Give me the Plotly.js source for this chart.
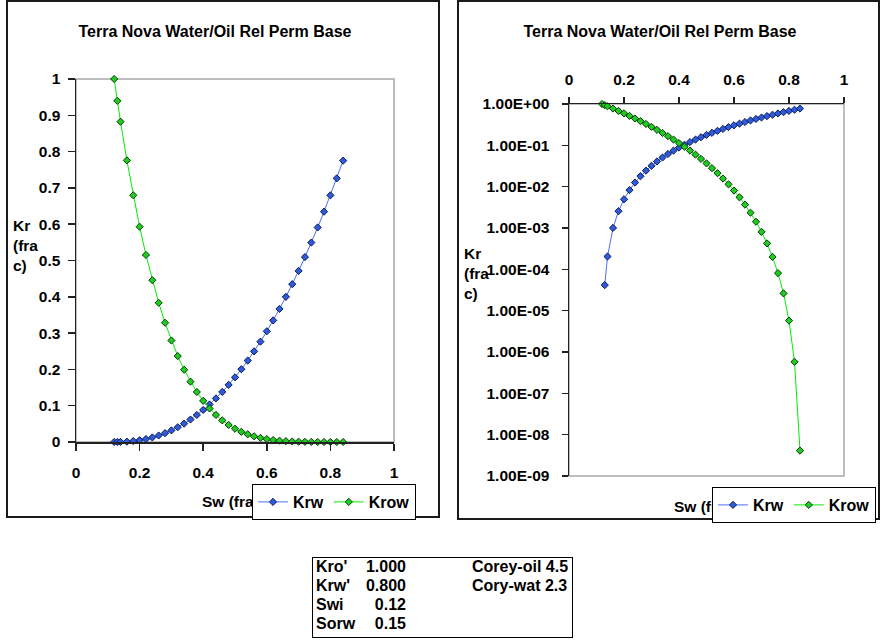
<!DOCTYPE html>
<html>
<head>
<meta charset="utf-8">
<script src="https://cdn.plot.ly/plotly-3.0.1.min.js"></script>
<style>
  html, body { margin: 0; padding: 0; background: #fff; width: 888px; height: 644px; overflow: hidden; }
  .frame { position: absolute; border: 2px solid #1a1a1a; box-sizing: border-box; }
  .chart { position: absolute; top: 0; }
  #params { position: absolute; left: 312px; top: 557px; width: 261px; height: 81px;
            border: 1.5px solid #000; box-sizing: border-box;
            font-family: "Liberation Sans", Arial, sans-serif; font-weight: bold; font-size: 16px; color: #000; }
  #params div { position: absolute; white-space: nowrap; line-height: 1; transform: translateY(-50%); }
</style>
</head>
<body>
<div class="frame" style="left:6px;width:434px;height:518px;top:0;"></div>
<div class="frame" style="left:457px;width:423px;height:520px;top:0;"></div>
<div id="linChart" class="chart" style="left:0;width:445px;height:525px;"></div>
<div id="logChart" class="chart" style="left:450px;width:438px;height:525px;"></div>
<div id="params"></div>

<script>
// Water saturation and the Corey relative permeability curves
const sw = [0.12, 0.13, 0.14, 0.16, 0.18, 0.20, 0.22, 0.24, 0.26, 0.28, 0.30, 0.32, 0.34,
            0.36, 0.38, 0.40, 0.42, 0.44, 0.46, 0.48, 0.50, 0.52, 0.54, 0.56, 0.58, 0.60,
            0.62, 0.64, 0.66, 0.68, 0.70, 0.72, 0.74, 0.76, 0.78, 0.80, 0.82, 0.84];

const krw = [0, 4.15e-5, 2.04e-4, 0.001005, 0.002554, 0.004949, 0.008268, 0.012575, 0.017929,
             0.024373, 0.031958, 0.040716, 0.050693, 0.061940, 0.074452, 0.088282, 0.10347,
             0.12003, 0.13800, 0.15737, 0.17821, 0.20053, 0.22436, 0.24968, 0.27651, 0.30499,
             0.33497, 0.36659, 0.39988, 0.43483, 0.47128, 0.50945, 0.54942, 0.59108, 0.63451,
             0.67950, 0.72637, 0.77507];

const krow = [1, 0.9398, 0.8824, 0.7758, 0.6797, 0.5930, 0.5152, 0.4457, 0.3835, 0.3285,
              0.2796, 0.2367, 0.1991, 0.1663, 0.1378, 0.11337, 0.09237, 0.07456, 0.05954,
              0.04697, 0.03658, 0.02807, 0.02119, 0.01570, 0.011377, 0.008049, 0.005530,
              0.003672, 0.002340, 0.001419, 0.000808, 0.0004242, 0.0002001, 8.109e-5,
              2.6175e-5, 5.758e-6, 5.780e-7, 4.110e-9];

// Axis ticks
const swTickVals = [0, 0.2, 0.4, 0.6, 0.8, 1];
const swTickText = ['0', '0.2', '0.4', '0.6', '0.8', '1'];
const krTickVals = [0, 0.1, 0.2, 0.3, 0.4, 0.5, 0.6, 0.7, 0.8, 0.9, 1];
const krTickText = ['0', '0.1', '0.2', '0.3', '0.4', '0.5', '0.6', '0.7', '0.8', '0.9', '1'];
const logTickVals = [1, 1e-1, 1e-2, 1e-3, 1e-4, 1e-5, 1e-6, 1e-7, 1e-8, 1e-9];
const logTickText = ['1.00E+00', '1.00E-01', '1.00E-02', '1.00E-03', '1.00E-04',
                     '1.00E-05', '1.00E-06', '1.00E-07', '1.00E-08', '1.00E-09'];

// Model parameters listed under the charts
const paramNames = ["Kro'", "Krw'", 'Swi', 'Sorw'];
const paramValues = ['1.000', '0.800', '0.12', '0.15'];
const coreyNotes = ['Corey-oil 4.5', 'Cory-wat 2.3'];

const chartTitle = 'Terra Nova Water/Oil Rel Perm Base';
const FAMILY = 'Liberation Sans, Arial, sans-serif';
const bold = (size) => ({ family: FAMILY, size: size, color: '#000', weight: 700 });
const AXIS_COLOR = '#222';
const TICK_SIZE = 15.5;

// pixel position inside a chart div -> paper fraction
function paper(g, px, py) {
  return { x: (px - g.l) / (g.w - g.l - g.r), y: (g.h - g.b - py) / (g.h - g.t - g.b) };
}

function series(yValues) {
  return [
    { x: sw, y: yValues[0], name: 'Krw', type: 'scatter', mode: 'lines+markers', cliponaxis: false,
      line: { color: '#4a6ff7', width: 1 },
      marker: { symbol: 'diamond', size: 5.5, color: '#2f5ad8', line: { color: '#0b1b5e', width: 1 } } },
    { x: sw, y: yValues[1], name: 'Krow', type: 'scatter', mode: 'lines+markers', cliponaxis: false,
      line: { color: '#00ee00', width: 1 },
      marker: { symbol: 'diamond', size: 5.5, color: '#1fcc1f', line: { color: '#053a05', width: 1 } } }
  ];
}

function baseAxis(extra) {
  return Object.assign({
    showline: true, linecolor: AXIS_COLOR, linewidth: 1.5,
    ticks: 'outside', ticklen: 7, tickwidth: 1.5, tickcolor: AXIS_COLOR,
    showgrid: false, zeroline: false, tickfont: bold(TICK_SIZE), fixedrange: true
  }, extra);
}
function innerTicks(extra) {
  return Object.assign({
    showline: false, showgrid: false, zeroline: false, showticklabels: false,
    ticks: 'inside', ticklen: 6, tickwidth: 1.5, tickcolor: AXIS_COLOR, fixedrange: true
  }, extra);
}

function commonLayout(g, titleX, titleY, legendPos) {
  return {
    width: g.w, height: g.h,
    margin: { l: g.l, r: g.r, t: g.t, b: g.b, autoexpand: false },
    paper_bgcolor: 'rgba(0,0,0,0)', plot_bgcolor: 'rgba(0,0,0,0)',
    title: { text: '<b>' + chartTitle + '</b>', font: bold(16), xref: 'container', yref: 'container',
             x: titleX / g.w, y: 1 - titleY / g.h, xanchor: 'center', yanchor: 'middle' },
    showlegend: true,
    legend: { orientation: 'h', x: legendPos.x, y: legendPos.y, xanchor: 'left', yanchor: 'top',
              bgcolor: '#fff', bordercolor: '#000', borderwidth: 1, font: bold(16),
              traceorder: 'normal', tracegroupgap: 0 },
    shapes: [{ type: 'rect', xref: 'paper', yref: 'paper', x0: 0, x1: 1, y0: 0, y1: 1,
               line: { color: '#a9a9a9', width: 1.5 }, layer: 'below' }]
  };
}

function labels(g, yTitle, xTitle) {
  const yt = paper(g, yTitle.x, yTitle.y);
  const xt = paper(g, xTitle.x, xTitle.y);
  return [
    { text: '<b>Kr<br>(fra<br>c)</b>', xref: 'paper', yref: 'paper', x: yt.x, y: yt.y,
      xanchor: 'left', yanchor: 'top', align: 'left', showarrow: false, font: bold(15.5) },
    { text: '<b>Sw (frac)</b>', xref: 'paper', yref: 'paper', x: xt.x, y: xt.y,
      xanchor: 'left', yanchor: 'middle', showarrow: false, font: bold(15.5) }
  ];
}

function legendOnTop(gd) {
  const lg = gd.querySelector('g.legend');
  if (lg) lg.parentNode.appendChild(lg);
}

// ---- linear chart ----
const g1 = { w: 445, h: 525, l: 76, r: 51, t: 79, b: 83 };
const lay1 = commonLayout(g1, 215, 31, paper(g1, 252, 484));
lay1.xaxis = baseAxis({ range: [0, 1], tickvals: swTickVals, ticktext: swTickText, ticklabelstandoff: 9 });
lay1.xaxis2 = innerTicks({ overlaying: 'x', anchor: 'y', side: 'bottom', range: [0, 1], tickvals: swTickVals });
lay1.yaxis = baseAxis({ range: [0, 1], tickvals: krTickVals, ticktext: krTickText, ticklabelstandoff: 4 });
lay1.yaxis2 = innerTicks({ overlaying: 'y', anchor: 'x', side: 'left', range: [0, 1], tickvals: krTickVals });
lay1.annotations = labels(g1, { x: 11, y: 215 }, { x: 200, y: 502 });

Plotly.newPlot('linChart', series([krw, krow]), lay1, { staticPlot: true }).then(legendOnTop);

// ---- log chart (zero values cannot be shown on a log axis) ----
const krwPositive = krw.map(v => (v > 0 ? v : null));
const g2 = { w: 438, h: 525, l: 119, r: 44, t: 104, b: 49 };
const lay2 = commonLayout(g2, 210, 31, paper(g2, 262, 487));
lay2.xaxis = baseAxis({ side: 'top', anchor: 'y', range: [0, 1], tickvals: swTickVals, ticktext: swTickText,
                        ticklen: 6, ticklabelstandoff: 5 });
lay2.xaxis2 = innerTicks({ overlaying: 'x', anchor: 'y', side: 'top', range: [0, 1], tickvals: swTickVals });
lay2.yaxis = baseAxis({ type: 'log', range: [-9, 0], tickvals: logTickVals, ticktext: logTickText,
                        ticklen: 6, ticklabelstandoff: 9 });
lay2.yaxis2 = innerTicks({ overlaying: 'y', anchor: 'x', side: 'left', type: 'log', range: [-9, 0],
                           tickvals: logTickVals });
lay2.annotations = labels(g2, { x: 12, y: 243 }, { x: 222, y: 506 });

Plotly.newPlot('logChart', series([krwPositive, krow]), lay2, { staticPlot: true }).then(legendOnTop);

// ---- parameter table ----
const params = document.getElementById('params');
const rowCenters = [9, 28, 47, 66];
paramNames.forEach((name, i) => {
  const n = document.createElement('div');
  n.textContent = name;
  n.style.left = '3px';
  n.style.top = rowCenters[i] + 'px';
  params.appendChild(n);
  const v = document.createElement('div');
  v.textContent = paramValues[i];
  v.style.right = (261 - 95) + 'px';
  v.style.top = rowCenters[i] + 'px';
  params.appendChild(v);
});
coreyNotes.forEach((note, i) => {
  const c = document.createElement('div');
  c.textContent = note;
  c.style.left = '159px';
  c.style.top = rowCenters[i] + 'px';
  params.appendChild(c);
});
</script>
</body>
</html>
